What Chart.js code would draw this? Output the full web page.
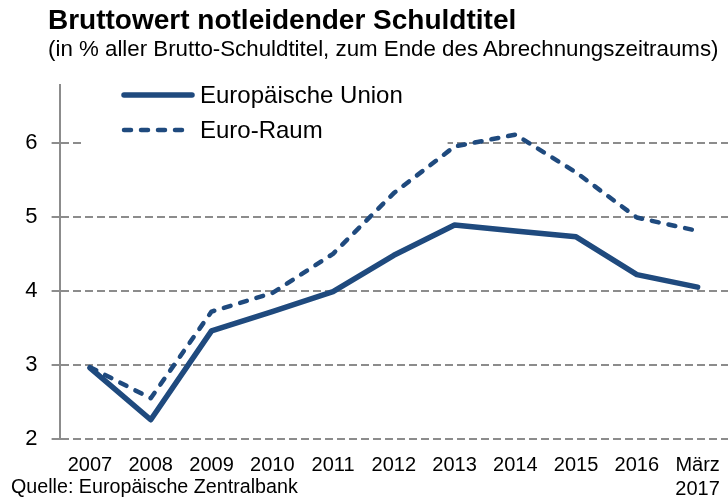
<!DOCTYPE html>
<html>
<head>
<meta charset="utf-8">
<script src="https://cdn.jsdelivr.net/npm/chart.js@4/dist/chart.umd.min.js"></script>
<style>
    body { margin: 0; width: 728px; height: 499px; background: #fff; font-family: "Liberation Sans", Arial, sans-serif; overflow: hidden; position: relative; }
    #title { position: absolute; left: 48px; top: 4px; font-size: 28px; font-weight: bold; color: #000; white-space: nowrap; }
    #subtitle { position: absolute; left: 48px; top: 36px; font-size: 22.3px; color: #000; white-space: nowrap; }
    #source { position: absolute; left: 11px; top: 475px; font-size: 19.7px; color: #000; white-space: nowrap; }
    #wrap { position: absolute; left: 0; top: 0; width: 728px; height: 499px; }
</style>
</head>
<body>
<div id="wrap"><canvas id="chart"></canvas></div>
<div id="title">Bruttowert notleidender Schuldtitel</div>
<div id="subtitle">(in % aller Brutto-Schuldtitel, zum Ende des Abrechnungszeitraums)</div>
<div id="source">Quelle: Europäische Zentralbank</div>
<script>
// categories
const years = ['2007', '2008', '2009', '2010', '2011', '2012', '2013', '2014', '2015', '2016', ['März', '2017']];

// series values (%)
const euValues = [2.96, 2.26, 3.46, 3.72, 3.99, 4.48, 4.89, 4.81, 4.73, 4.22, 4.05];
const euroAreaValues = [2.97, 2.55, 3.72, 3.97, 4.50, 5.32, 5.95, 6.11, 5.60, 4.99, 4.81];

const seriesNames = ['Europäische Union', 'Euro-Raum'];
const yTicks = [2, 3, 4, 5, 6];

const BLUE = '#1f4a7e';
const GRID = '#8c8c8c';

// legend sits inside the plot on a white patch, hiding the 6-gridline behind it
const insideLegend = {
    id: 'insideLegend',
    beforeDatasetsDraw(chart) {
        const ctx = chart.ctx;
        const area = chart.chartArea;
        ctx.save();
        ctx.fillStyle = '#fff';
        ctx.fillRect(area.left + 22, area.top, 366, 70);

        const items = chart.data.datasets;
        const rows = [95, 130];
        ctx.lineCap = 'round';
        items.forEach((ds, i) => {
            ctx.strokeStyle = ds.borderColor;
            ctx.lineWidth = ds.borderWidth;
            ctx.setLineDash(ds.borderDash || []);
            ctx.beginPath();
            ctx.moveTo(124, rows[i]);
            ctx.lineTo(192, rows[i]);
            ctx.stroke();
            ctx.setLineDash([]);
            ctx.fillStyle = '#000';
            ctx.font = '24px "Liberation Sans", Arial, sans-serif';
            ctx.textBaseline = 'middle';
            ctx.fillText(ds.label, 200, rows[i] + 1);
        });
        ctx.restore();
    }
};

new Chart(document.getElementById('chart').getContext('2d'), {
    type: 'line',
    data: {
        labels: years,
        datasets: [
            {
                label: seriesNames[0],
                data: euValues,
                borderColor: BLUE,
                borderWidth: 5.5,
                pointRadius: 0,
                tension: 0,
                borderCapStyle: 'round',
                borderJoinStyle: 'round'
            },
            {
                label: seriesNames[1],
                data: euroAreaValues,
                borderColor: BLUE,
                borderWidth: 4.5,
                borderDash: [7, 10],
                pointRadius: 0,
                tension: 0,
                borderCapStyle: 'round',
                borderJoinStyle: 'round'
            }
        ]
    },
    options: {
        responsive: true,
        maintainAspectRatio: false,
        animation: false,
        layout: { padding: { top: 85, right: 0, left: 0, bottom: 0 } },
        scales: {
            x: {
                offset: true,
                grid: { display: false },
                border: { display: false },
                ticks: {
                    color: '#000',
                    font: { size: 20, family: '"Liberation Sans", Arial, sans-serif' },
                    maxRotation: 0,
                    autoSkip: false,
                    padding: 6
                },
                afterFit(scale) { scale.height = 60; }
            },
            y: {
                min: 2,
                max: 6.78,
                afterBuildTicks(scale) {
                    scale.ticks = yTicks.map(v => ({ value: v }));
                },
                afterFit(scale) { scale.width = 59.6; },
                border: { display: true, color: GRID, width: 2, dash: [8, 4] },
                grid: {
                    color: GRID,
                    lineWidth: 2,
                    tickLength: 8,
                    tickColor: GRID,
                    tickBorderDash: [8, 4]
                },
                ticks: {
                    color: '#000',
                    font: { size: 22, family: '"Liberation Sans", Arial, sans-serif' },
                    padding: 14
                }
            }
        },
        plugins: {
            legend: { display: false },
            tooltip: { enabled: false }
        }
    },
    plugins: [insideLegend]
});
</script>
</body>
</html>
